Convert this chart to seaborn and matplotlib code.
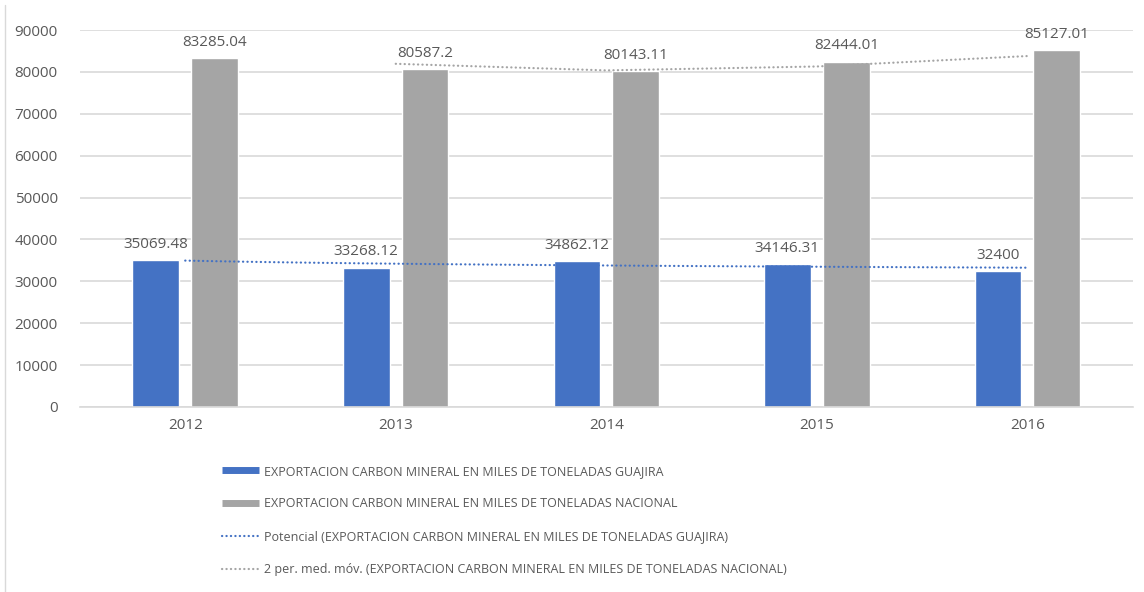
import numpy as np
import pandas as pd
import matplotlib
matplotlib.use('Agg')
import matplotlib.pyplot as plt
from matplotlib.lines import Line2D
import seaborn as sns

years = ['2012', '2013', '2014', '2015', '2016']
guajira = [35069.48, 33268.12, 34862.12, 34146.31, 32400]
nacional = [83285.04, 80587.2, 80143.11, 82444.01, 85127.01]

lbl_guajira = 'EXPORTACION CARBON MINERAL EN MILES DE TONELADAS GUAJIRA'
lbl_nacional = 'EXPORTACION CARBON MINERAL EN MILES DE TONELADAS NACIONAL'
lbl_trend = 'Potencial (EXPORTACION CARBON MINERAL EN MILES DE TONELADAS GUAJIRA)'
lbl_mavg = '2 per. med. móv. (EXPORTACION CARBON MINERAL EN MILES DE TONELADAS NACIONAL)'

blue = '#4472C4'
gray = '#A5A5A5'
txt = '#595959'
dots = (0, (0.1, 1.9))

sns.set_style('white')
plt.rcParams['font.family'] = ['Open Sans', 'DejaVu Sans']

df = pd.DataFrame({'Year': years * 2,
                   'Valor': guajira + nacional,
                   'Serie': [lbl_guajira] * 5 + [lbl_nacional] * 5})

fig = plt.figure(figsize=(11.44, 5.92), dpi=100)
ax = fig.add_axes([0.0699, 0.3125, 0.9201, 0.6368])

sns.barplot(data=df, x='Year', y='Valor', hue='Serie', order=years,
            palette={lbl_guajira: blue, lbl_nacional: gray}, saturation=1,
            width=0.56, gap=0.21, ax=ax, legend=False)


def fmt(v):
    return f'{v:.2f}'.rstrip('0').rstrip('.')


for cont in ax.containers:
    ax.bar_label(cont, labels=[fmt(v) for v in cont.datavalues],
                 padding=6, fontsize=11, color=txt)

# power trendline (Excel "Potencial") fitted on x = 1..5
xs = np.arange(1, 6)
b, loga = np.polyfit(np.log(xs), np.log(guajira), 1)
xc = np.linspace(1, 5, 100)
ax.plot(xc - 1, np.exp(loga) * xc ** b, color=blue, lw=1.6,
        linestyle=dots, dash_capstyle='round')

# 2-period moving average
mavg = pd.Series(nacional).rolling(2).mean()
ax.plot(np.arange(5)[1:], mavg[1:], color=gray, lw=1.6,
        linestyle=dots, dash_capstyle='round')

ax.set_xlim(-0.5, 4.5)
ax.set_ylim(0, 90000)
ax.set_yticks(range(0, 90001, 10000))
ax.yaxis.grid(True, color='#D9D9D9', lw=1.2)
ax.set_axisbelow(True)
ax.set_xlabel('')
ax.set_ylabel('')
ax.tick_params(axis='both', length=0, labelsize=11, labelcolor=txt)
ax.tick_params(axis='x', pad=8)
ax.tick_params(axis='y', pad=16)
for s in ['top', 'right', 'left']:
    ax.spines[s].set_visible(False)
ax.spines['bottom'].set_color('#D9D9D9')
ax.spines['bottom'].set_linewidth(1.2)

handles = [Line2D([], [], color=blue, lw=5, solid_capstyle='butt'),
           Line2D([], [], color=gray, lw=5, solid_capstyle='butt'),
           Line2D([], [], color=blue, lw=1.6, linestyle=dots,
                  dash_capstyle='round'),
           Line2D([], [], color=gray, lw=1.6, linestyle=dots,
                  dash_capstyle='round')]
fig.legend(handles, [lbl_guajira, lbl_nacional, lbl_trend, lbl_mavg],
           loc='upper left', bbox_to_anchor=(0.194, 0.215), frameon=False,
           fontsize=9, labelcolor=txt, handlelength=3.0, handletextpad=0.4,
           labelspacing=1.58, borderaxespad=0, borderpad=0)

fig.add_artist(Line2D([5 / 1144, 5 / 1144], [0, 1 - 5 / 592],
                      transform=fig.transFigure, color='#D9D9D9', lw=1))

fig.savefig('out.png', dpi=100)
